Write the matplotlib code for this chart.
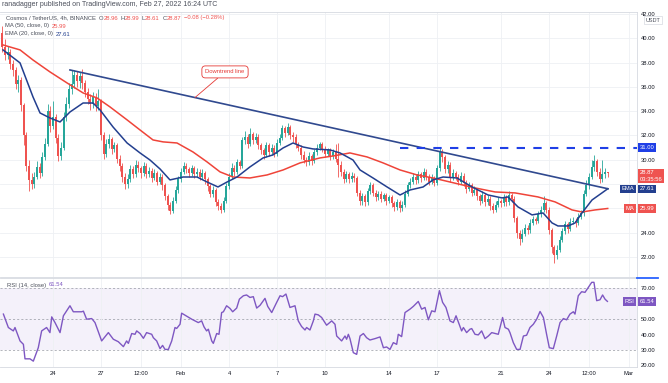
import matplotlib
matplotlib.use('Agg')
import matplotlib.pyplot as plt
import numpy as np
from matplotlib.transforms import blended_transform_factory
from matplotlib.lines import Line2D

plt.rcParams['font.family'] = ['Liberation Sans', 'DejaVu Sans']

# ---------------- data (days measured from 2022-01-24 00:00) ----------------
first_day = -19 / 6          # first 4h candle: 2022-01-20 20:00
candle_step = 1 / 6          # 4 hours
first_open = 40.4
closes = [
    39.3, 38.6, 38.9, 37.9, 37.4, 36.2, 36.6, 34.5, 32.0, 29.5,
    28.3, 28.0, 28.6, 29.4, 28.9, 30.2, 31.3, 34.0, 32.8, 33.5,
    31.8, 30.3, 31.0, 33.5, 34.6, 35.8, 36.2, 37.0, 36.5, 36.9,
    36.3, 35.6, 35.0, 34.6, 35.2, 34.4, 34.8, 32.0, 30.5, 31.3,
    31.7, 30.9, 31.2, 30.1, 29.5, 28.6, 28.0, 28.4, 29.2, 28.8,
    29.6, 29.3, 28.9, 29.5, 28.8, 29.1, 28.5, 28.9, 28.2, 28.6,
    27.9, 27.0, 26.3, 25.8, 26.6, 27.5, 28.4, 29.0, 29.5, 29.2,
    28.9, 29.3, 28.8, 29.0, 28.6, 28.9, 28.4, 27.8, 27.2, 27.5,
    26.5, 26.2, 25.9, 26.6, 27.8, 28.6, 29.3, 29.0, 29.8, 29.5,
    31.6, 31.9, 31.3, 32.1, 31.6, 31.9, 31.2, 30.8, 30.4, 31.2,
    30.6, 31.0, 30.5, 31.4, 31.8, 32.6, 32.2, 32.7, 32.0, 31.9,
    31.3, 31.0, 30.4, 30.0, 29.8, 30.3, 29.9, 30.6, 31.0, 31.3,
    30.9, 30.5, 30.8, 30.3, 30.6, 30.1, 29.6, 29.0, 28.4, 28.8,
    28.4, 28.7, 28.5, 27.3, 26.6, 27.0, 26.5, 27.4, 27.9, 27.3,
    26.9, 27.2, 26.8, 27.1, 26.6, 26.9, 26.4, 26.1, 26.5, 26.0,
    26.3, 27.2, 27.9, 28.2, 28.6, 28.3, 28.8, 28.5, 29.0, 28.6,
    28.2, 28.5, 28.1, 29.3, 30.6, 30.2, 29.2, 29.6, 28.5, 28.9,
    28.6, 28.2, 28.7, 28.1, 27.6, 27.9, 27.3, 27.5, 27.0, 26.6,
    27.1, 26.5, 26.8, 26.2, 25.9, 26.3, 26.6, 26.4, 26.9, 26.5,
    27.1, 26.8, 25.2, 24.0, 23.5, 23.9, 24.4, 24.2, 24.8, 25.1,
    25.0, 25.5, 25.9, 26.4, 25.9, 24.2, 22.8, 22.2, 22.6, 23.4,
    24.1, 24.7, 24.3, 24.9, 25.0, 24.8, 25.3, 25.6, 27.2, 27.9,
    28.6, 29.4, 29.9, 29.0, 28.4, 28.8, 28.96, 28.87,
]
highs = [
    41.0, 39.9, 39.4, 39.1, 38.2, 37.6, 37.0, 36.8, 34.7, 32.3,
    30.0, 28.9, 29.0, 29.9, 29.7, 30.6, 31.8, 34.6, 34.4, 34.8,
    33.8, 32.1, 31.5, 33.9, 35.2, 36.3, 37.4, 37.4, 37.3, 37.2,
    37.5, 36.6, 35.9, 35.4, 35.6, 35.5, 35.8, 35.0, 32.3, 31.7,
    32.1, 31.9, 31.5, 31.4, 30.4, 29.7, 28.9, 28.8, 29.6, 29.5,
    30.0, 29.9, 29.5, 29.8, 29.7, 29.4, 29.3, 29.2, 29.1, 28.9,
    28.8, 28.1, 27.2, 26.5, 26.9, 27.8, 28.7, 29.3, 29.8, 29.7,
    29.4, 29.6, 29.5, 29.3, 29.2, 29.2, 29.1, 28.6, 28.0, 27.8,
    27.7, 26.8, 26.4, 26.9, 28.1, 28.9, 29.7, 29.6, 30.1, 30.0,
    31.9, 32.4, 32.1, 32.6, 32.3, 32.2, 32.1, 31.4, 31.0, 31.5,
    31.4, 31.3, 31.2, 31.7, 32.1, 32.9, 32.8, 33.0, 32.9, 32.3,
    32.1, 31.5, 31.2, 30.7, 30.2, 30.6, 30.5, 30.9, 31.3, 31.5,
    31.5, 31.1, 31.0, 31.0, 30.9, 31.3, 31.4, 29.9, 29.2, 29.1,
    29.0, 29.0, 28.9, 28.7, 27.5, 27.3, 27.2, 27.7, 28.2, 28.1,
    27.5, 27.4, 27.4, 27.3, 27.3, 27.1, 27.1, 26.6, 26.8, 26.7,
    26.6, 27.5, 28.2, 28.5, 28.9, 28.8, 29.1, 29.0, 29.3, 29.2,
    28.8, 28.8, 28.7, 29.6, 31.0, 30.9, 30.4, 29.9, 29.8, 29.2,
    29.1, 28.8, 29.0, 28.9, 28.3, 28.2, 28.1, 27.8, 27.7, 27.2,
    27.4, 27.3, 27.1, 27.0, 26.4, 26.6, 26.9, 26.8, 27.2, 27.1,
    27.4, 27.3, 27.0, 25.4, 24.2, 24.3, 24.7, 24.6, 25.1, 25.4,
    25.3, 25.8, 26.2, 27.0, 26.6, 26.1, 24.4, 23.0, 23.0, 23.7,
    24.4, 25.0, 24.9, 25.2, 25.3, 25.2, 25.6, 25.9, 27.5, 28.3,
    28.9, 30.0, 30.4, 30.1, 29.3, 30.0, 29.3, 28.99,
]
lows = [
    38.9, 38.2, 38.3, 37.5, 36.9, 35.8, 35.6, 34.0, 31.2, 29.1,
    27.4, 27.6, 27.7, 28.4, 28.5, 28.7, 30.0, 31.1, 32.3, 32.5,
    31.4, 29.9, 30.0, 30.8, 33.2, 34.3, 35.4, 35.9, 36.0, 35.9,
    35.8, 35.2, 34.6, 34.1, 34.3, 34.0, 34.1, 31.6, 30.1, 30.2,
    31.0, 30.5, 30.6, 29.7, 29.1, 28.2, 27.6, 27.7, 28.2, 28.5,
    28.6, 29.0, 28.5, 28.7, 28.5, 28.6, 28.2, 28.3, 27.9, 28.0,
    27.5, 26.7, 25.9, 25.5, 25.6, 26.4, 27.3, 28.2, 28.8, 28.9,
    28.6, 28.7, 28.5, 28.6, 28.3, 28.4, 28.0, 27.4, 26.9, 26.9,
    26.2, 25.9, 25.6, 25.7, 26.4, 27.6, 28.4, 28.7, 28.8, 29.2,
    29.3, 31.3, 31.0, 31.1, 31.3, 31.4, 30.9, 30.5, 30.1, 30.2,
    30.3, 30.4, 30.2, 30.3, 31.2, 31.6, 31.9, 32.0, 31.7, 31.5,
    31.0, 30.7, 30.1, 29.7, 29.5, 29.6, 29.6, 29.7, 30.4, 30.8,
    30.6, 30.2, 30.3, 30.0, 30.1, 29.8, 28.6, 28.7, 28.1, 28.2,
    28.1, 28.2, 28.2, 27.0, 26.3, 26.3, 26.2, 26.3, 27.2, 27.0,
    26.6, 26.7, 26.5, 26.6, 26.3, 26.4, 26.1, 25.8, 25.9, 25.7,
    25.8, 26.1, 27.0, 27.7, 28.0, 28.0, 28.1, 28.2, 28.3, 28.3,
    27.9, 28.0, 27.8, 27.9, 29.1, 29.8, 28.9, 28.9, 28.2, 28.3,
    28.3, 27.9, 28.0, 27.8, 27.3, 27.4, 27.0, 27.1, 26.7, 26.3,
    26.4, 26.2, 26.3, 25.9, 25.6, 25.7, 26.1, 26.1, 26.2, 26.2,
    26.3, 26.5, 24.9, 23.6, 23.0, 23.2, 23.7, 23.9, 24.0, 24.6,
    24.7, 24.8, 25.3, 25.7, 25.6, 23.9, 22.3, 21.5, 21.8, 22.4,
    23.2, 23.9, 24.0, 24.1, 24.7, 24.5, 24.6, 25.1, 25.4, 27.0,
    27.6, 28.4, 29.1, 28.7, 28.1, 28.2, 28.5, 28.61,
]

ema_days = [-3.125, -2.06, -1.25, -0.81, -0.19, 0.44, 1.06, 1.88, 2.5, 2.94,
            3.75, 4.63, 5.44, 6.06, 6.69, 7.31, 8.13, 9.0, 9.63, 10.31,
            10.88, 11.5, 12.31, 13.13, 13.75, 14.38, 15.0, 15.63, 16.25, 17.31,
            17.94, 18.75, 19.19, 20.0, 20.88, 21.69, 22.31, 23.13, 23.75, 24.38,
            25.25, 26.19, 27.19, 28.06, 28.44, 29.06, 29.94, 30.63, 31.19, 31.56,
            32.19, 32.63, 33.06, 33.69, 34.31, 34.67]
ema_vals = [39.04, 37.97, 35.17, 33.85, 33.44, 33.11, 33.93, 34.67, 34.67, 34.10,
            32.70, 31.38, 30.56, 29.98, 29.24, 28.34, 28.58, 28.58, 28.17, 27.76,
            28.17, 28.58, 29.41, 30.15, 30.40, 30.97, 31.38, 31.05, 30.89, 30.81,
            30.56, 29.98, 29.16, 28.50, 27.76, 27.10, 27.51, 27.76, 28.34, 28.58,
            28.50, 27.76, 27.10, 26.86, 26.94, 26.12, 25.46, 25.62, 24.80, 24.55,
            24.55, 24.80, 25.62, 26.69, 27.27, 27.61]

ma_days = [-3.125, -2.06, -1.25, -0.19, 0.88, 1.88, 2.75, 3.56, 4.63, 5.44,
           6.25, 6.88, 7.75, 8.75, 9.63, 10.44, 11.25, 12.31, 13.38, 14.38,
           15.44, 16.69, 17.5, 18.56, 19.63, 20.63, 21.69, 22.75, 23.75, 24.81,
           26.38, 27.63, 28.88, 30.31, 31.38, 32.44, 33.06, 33.88, 34.67]
ma_vals = [39.45, 39.04, 38.21, 37.23, 36.32, 35.50, 35.09, 34.35, 33.28, 32.45,
           31.63, 31.47, 31.38, 30.64, 29.82, 29.00, 28.58, 28.50, 28.75, 29.16,
           29.74, 30.15, 30.31, 30.56, 30.23, 29.74, 29.16, 28.75, 28.50, 28.17,
           27.68, 27.35, 27.27, 26.94, 26.53, 25.87, 25.70, 25.87, 25.99]

rsi_days = [-3.10, -2.79, -2.48, -2.375, -2.06, -1.85, -1.75, -1.44, -1.23, -0.92,
            -0.71, -0.40, -0.19, -0.08, 0.125, 0.44, 0.65, 1.06, 1.27, 1.79,
            1.90, 2.10, 2.42, 2.625, 3.04, 3.46, 3.77, 4.08, 4.40, 4.60,
            4.71, 4.92, 5.125, 5.23, 5.44, 5.65, 5.85, 6.17, 6.27, 6.48,
            6.69, 6.85, 7.0, 7.21, 7.42, 7.625, 7.73, 7.94, 8.04, 8.25,
            8.67, 9.08, 9.29, 9.44, 9.60, 9.71, 9.92, 10.02, 10.23, 10.375,
            10.54, 10.65, 10.85, 11.06, 11.23, 11.48, 11.65, 11.90, 12.10, 12.31,
            12.52, 12.73, 12.94, 13.25, 13.42, 13.67, 13.98, 14.19, 14.35, 14.56,
            14.81, 15.125, 15.33, 15.54, 15.75, 15.85, 16.06, 16.27, 16.375, 16.58,
            16.79, 17.10, 17.42, 17.625, 17.73, 18.04, 18.25, 18.35, 18.46, 18.56,
            18.77, 18.98, 19.19, 19.40, 19.60, 19.81, 20.125, 20.44, 20.65, 20.85,
            21.06, 21.27, 21.48, 21.58, 21.79, 22.0, 22.15, 22.31, 22.52, 22.83,
            23.04, 23.25, 23.46, 23.67, 23.875, 24.15, 24.35, 24.56, 24.81, 25.02,
            25.19, 25.33, 25.54, 25.65, 25.85, 26.06, 26.17, 26.375, 26.58, 26.79,
            27.0, 27.21, 27.42, 27.83, 28.10, 28.25, 28.46, 28.56, 28.77, 28.98,
            29.19, 29.40, 29.60, 29.81, 30.02, 30.23, 30.44, 30.65, 30.85, 31.02,
            31.27, 31.48, 31.69, 31.90, 32.10, 32.31, 32.52, 32.625, 32.83, 33.04,
            33.25, 33.46, 33.67, 33.81, 33.98, 34.19, 34.35, 34.5, 34.65]
rsi_vals = [53.3, 44.6, 42.4, 44.6, 35.9, 33.7, 24.3, 24.3, 22.8, 31.5,
            42.4, 44.6, 41.3, 51.5, 47.8, 41.3, 52.2, 58.7, 54.8, 54.8,
            55.2, 50.0, 50.4, 47.8, 35.9, 41.3, 37.0, 35.4, 32.2, 35.9,
            34.3, 40.7, 40.2, 42.4, 40.7, 37.6, 41.3, 40.2, 38.0, 35.9,
            30.9, 33.0, 30.4, 30.4, 35.9, 44.6, 44.0, 46.7, 53.9, 52.6,
            50.0, 47.8, 48.9, 45.0, 42.4, 43.5, 35.9, 34.3, 40.7, 40.2,
            54.3, 54.8, 58.7, 57.0, 54.8, 57.2, 63.0, 65.2, 65.7, 64.1,
            64.6, 57.2, 59.0, 63.5, 58.3, 54.3, 60.9, 65.2, 64.6, 66.3,
            57.6, 58.7, 48.9, 45.2, 43.0, 44.6, 43.0, 48.9, 53.3, 52.8,
            51.1, 46.1, 48.9, 46.7, 39.1, 35.9, 39.1, 37.0, 40.2, 37.4,
            28.3, 27.2, 39.1, 40.7, 38.0, 36.5, 37.4, 38.5, 31.5, 32.0,
            30.4, 34.8, 33.7, 40.2, 38.7, 54.3, 55.4, 56.5, 58.3, 61.5,
            56.5, 57.6, 49.6, 55.4, 54.8, 68.5, 60.9, 57.6, 48.9, 47.8,
            52.2, 48.3, 42.4, 44.6, 41.3, 43.5, 43.9, 40.2, 39.8, 42.4,
            37.4, 39.1, 41.3, 40.2, 51.1, 44.6, 43.5, 41.3, 34.8, 30.4,
            30.4, 39.1, 39.6, 44.6, 46.7, 50.0, 55.0, 51.1, 40.2, 31.5,
            30.9, 39.1, 47.8, 50.4, 49.6, 53.3, 54.8, 53.3, 65.2, 67.8,
            67.4, 70.7, 73.9, 73.9, 62.0, 62.6, 65.7, 63.0, 61.54]

trend_days = [1.06, 34.69]
trend_vals = [37.39, 27.61]
resistance_start = 21.69
resistance = 31.00

price_ticks = [42, 40, 38, 36, 34, 32, 30, 28, 26, 24, 22]
price_hidden = [28, 26]          # covered by the price labels in the reference
rsi_ticks = [70, 60, 50, 40, 30, 20]
rsi_hidden = [60]
x_tick_days = [0, 3, 5.5, 8, 11, 14, 17, 21, 24, 28, 31, 33.5, 36]
x_tick_labels = ['24', '27', '12:00', 'Feb', '4', '7', '10', '14', '17', '21', '24', '12:00', 'Mar']

# ---------------- figure ----------------
W, H = 668, 383
UP, DOWN = '#26a69a', '#ef5350'
MA_C, EMA_C, TREND_C, RES_C, RSI_C = '#ef4439', '#233f8f', '#30498f', '#1f3fe6', '#7e57c2'
GRID = '#eef0f4'
TXT = '#4a4e5a'
FS = 4.2


def fx(px):
    return px / W


def fy(py):
    return 1 - py / H


fig = plt.figure(figsize=(W / 100, H / 100), dpi=100)
fig.patch.set_facecolor('white')
ax = fig.add_axes([0, fy(277), 637 / W, (277 - 12) / H])
rx = fig.add_axes([0, fy(367), 637 / W, (367 - 278) / H], sharex=ax)

closes_a = np.array(closes)
opens_a = np.r_[first_open, closes_a[:-1]]
days = first_day + candle_step * np.arange(len(closes_a))
cols = np.where(closes_a >= opens_a, UP, DOWN)
ax.vlines(days, lows, highs, colors=cols, lw=0.6, zorder=2)
ax.bar(days, np.maximum(np.abs(closes_a - opens_a), 0.05), bottom=np.minimum(opens_a, closes_a),
       width=0.12, color=cols, lw=0, zorder=2)

ax.plot(ma_days, ma_vals, color=MA_C, lw=1.1, zorder=3, solid_joinstyle='round')
ax.plot(ema_days, ema_vals, color=EMA_C, lw=1.1, zorder=3, solid_joinstyle='round')
ax.plot(trend_days, trend_vals, color=TREND_C, lw=1.2, zorder=4)
ax.plot([resistance_start, 36.5], [resistance, resistance], color=RES_C, lw=1.5,
        linestyle=(0, (4, 4)), zorder=4)

ax.annotate('Downtrend line', xy=(8.875, 35.12), xytext=(10.75, 37.23), fontsize=FS,
            color='#e53935', ha='center', va='center', zorder=6,
            bbox=dict(boxstyle='round,pad=0.6', fc='white', ec='#e53935', lw=0.6),
            arrowprops=dict(arrowstyle='-', color='#e53935', lw=0.6, shrinkA=0, shrinkB=0))

ax.set_xlim(-3.3125, 36.5)
ax.set_ylim(20.35, 42.16)
rx.set_ylim(19.0, 76.7)

for a in (ax, rx):
    a.yaxis.tick_right()
    a.tick_params(axis='both', length=0, labelsize=FS, labelcolor='#131722', pad=3)
    a.set_xticks(x_tick_days)
    a.grid(True, axis='x', color=GRID, lw=0.6, zorder=0)
    a.spines['left'].set_visible(False)
    for s in ('right', 'top', 'bottom'):
        a.spines[s].set_color('#d6d9e0')
        a.spines[s].set_linewidth(0.6)

ax.set_yticks(price_ticks)
ax.set_yticklabels(['' if v in price_hidden else f'{v:.2f}' for v in price_ticks])
ax.grid(True, axis='y', color=GRID, lw=0.6, zorder=0)
ax.tick_params(labelbottom=False)

rx.set_yticks(rsi_ticks)
rx.set_yticklabels(['' if v in rsi_hidden else f'{v:.2f}' for v in rsi_ticks])
rx.set_xticklabels(x_tick_labels)
rx.axhspan(30, 70, color=RSI_C, alpha=0.08, lw=0, zorder=0)
for lvl in (70, 50, 30):
    rx.axhline(lvl, color='#9598a1', lw=0.5, linestyle=(0, (3, 3)), zorder=1)
rx.plot(rsi_days, rsi_vals, color=RSI_C, lw=1.0, zorder=3)


# price-axis labels
def box(a, x, y, text, fc, ha='left', tc='white', va='center', **kw):
    tr = blended_transform_factory(a.transAxes, a.transData)
    a.text(x, y, text, transform=tr, ha=ha, va=va, fontsize=FS, color=tc, clip_on=False,
           zorder=20, bbox=dict(boxstyle='square,pad=0.3', fc=fc, ec='none'), **kw)


box(ax, 1.004, 31.0, '31.00', RES_C)
box(ax, 1.004, 29.12, '28.87\n03:35:56', DOWN, va='top', linespacing=1.3)
box(ax, 0.9955, 27.61, 'EMA', EMA_C, ha='right')
box(ax, 1.004, 27.61, '27.61', EMA_C)
box(ax, 0.9955, 25.99, 'MA', DOWN, ha='right')
box(ax, 1.004, 25.99, '25.99', DOWN)
box(rx, 0.9955, 61.54, 'RSI', RSI_C, ha='right')
box(rx, 1.004, 61.54, '61.54', RSI_C)

fig.text(fx(646), fy(20), 'USDT', fontsize=4, color=TXT, va='center',
         bbox=dict(boxstyle='square,pad=0.3', fc='white', ec='#d6d9e0', lw=0.5))
fig.add_artist(Line2D([fx(637), fx(658)], [fy(277.5), fy(277.5)], color='#2962ff', lw=1.3))

# header and legends (placed one after another)
renderer = fig.canvas.get_renderer()


def text_row(x0, y, parts):
    x = x0
    for t, c, gap in parts:
        tx = fig.text(fx(x), fy(y), t, fontsize=FS, color=c, va='center')
        bb = tx.get_window_extent(renderer)
        x = bb.x1 + gap


fig.text(fx(2), fy(5), 'ranadagger published on TradingView.com, Feb 27, 2022 16:24 UTC',
         fontsize=5, color=TXT, va='center')
text_row(6, 18, [('Cosmos / TetherUS, 4h, BINANCE', TXT, 3), ('O', TXT, 0), ('28.96', DOWN, 2.5),
                 ('H', TXT, 0), ('28.99', DOWN, 2.5), ('L', TXT, 0), ('28.61', DOWN, 2.5),
                 ('C', TXT, 0), ('28.87', DOWN, 3), ('\u22120.08 (\u22120.28%)', DOWN, 0)])
text_row(5, 26, [('MA (50, close, 0)', TXT, 3), ('25.99', DOWN, 0)])
text_row(5, 34, [('EMA (20, close, 0)', TXT, 3), ('27.61', EMA_C, 0)])
text_row(7, 285, [('RSI (14, close)', TXT, 3), ('61.54', RSI_C, 0)])

fig.savefig('out.png', dpi=100, facecolor='white')
